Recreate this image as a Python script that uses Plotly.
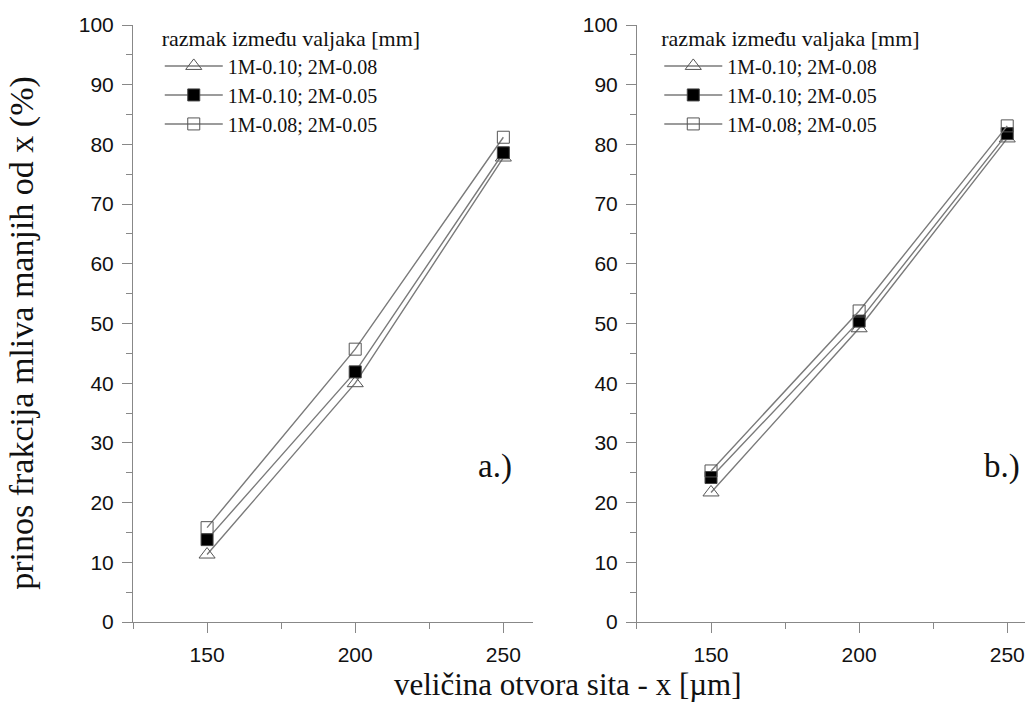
import plotly.graph_objects as go

sieve = [150, 200, 250]
series_names = ["1M-0.10; 2M-0.08", "1M-0.10; 2M-0.05", "1M-0.08; 2M-0.05"]

a_tri = [11.3, 40.0, 77.8]
a_fill = [13.8, 41.9, 78.6]
a_open = [15.8, 45.7, 81.2]

b_tri = [21.7, 49.2, 81.0]
b_fill = [24.2, 50.4, 81.8]
b_open = [25.3, 52.1, 83.1]

legend_title = "razmak između valjaka [mm]"
y_title = "prinos frakcija mliva manjih od x (%)"
x_title = "veličina otvora sita - x [µm]"

SERIF = "Liberation Serif, Times New Roman, serif"
SANS = "Liberation Sans, Arial, sans-serif"
LINE = "#7a7a7a"

styles = [
    dict(symbol="triangle-up-open", color="#555555", size=14),
    dict(symbol="square", color="#000000", size=12, line=dict(color="#444444", width=1)),
    dict(symbol="square-open", color="#555555", size=12),
]

fig = go.Figure()
for panel, data in (("a", [a_tri, a_fill, a_open]), ("b", [b_tri, b_fill, b_open])):
    xa = "x" if panel == "a" else "x2"
    ya = "y" if panel == "a" else "y2"
    lg = "legend" if panel == "a" else "legend2"
    for name, vals, st in zip(series_names, data, styles):
        fig.add_trace(go.Scatter(
            x=sieve, y=vals, name=name, mode="lines+markers",
            xaxis=xa, yaxis=ya, legend=lg,
            line=dict(color=LINE, width=1.4),
            marker=st,
        ))

axis_common = dict(
    showline=True, linecolor="#888888", linewidth=1,
    ticks="outside", ticklen=10, tickcolor="#888888", tickwidth=1,
    showgrid=False, zeroline=False, ticklabelstandoff=4,
    tickfont=dict(family=SANS, size=21, color="#111111"),
)
xcommon = dict(axis_common, tickvals=[150, 200, 250],
               minor=dict(ticks="outside", ticklen=6, tickcolor="#888888", dtick=25, tick0=0))
ycommon = dict(axis_common, range=[0, 100], dtick=10,
               minor=dict(ticks="outside", ticklen=6, tickcolor="#888888", dtick=5))

legend_common = dict(
    y=1.012, xanchor="left", yanchor="top",
    bgcolor="rgba(0,0,0,0)", borderwidth=0,
    title=dict(text=legend_title, font=dict(family=SERIF, size=22, color="#111111")),
    font=dict(family=SERIF, size=20, color="#111111"),
    tracegroupgap=0, itemwidth=58,
)

fig.update_layout(
    width=1025, height=705,
    margin=dict(l=133, r=0, t=25, b=83),
    plot_bgcolor="white", paper_bgcolor="white",
    xaxis=dict(xcommon, domain=[0, 0.4484], range=[125, 260], anchor="y"),
    yaxis=dict(ycommon, domain=[0, 1], anchor="x"),
    xaxis2=dict(xcommon, domain=[0.565, 1], range=[125, 256], anchor="y2"),
    yaxis2=dict(ycommon, domain=[0, 1], anchor="x2"),
    legend=dict(legend_common, x=0.03),
    legend2=dict(legend_common, x=0.59),
    annotations=[
        dict(text="a.)", xref="x", yref="y", x=253.5, y=26, xanchor="right", yanchor="middle",
             showarrow=False, font=dict(family=SERIF, size=33, color="#111111")),
        dict(text="b.)", xref="x2", yref="y2", x=255, y=26, xanchor="right", yanchor="middle",
             showarrow=False, font=dict(family=SERIF, size=33, color="#111111")),
        dict(text=y_title, xref="paper", yref="paper", x=-0.124, y=0.485, xanchor="center", yanchor="middle",
             textangle=-90, showarrow=False, font=dict(family=SERIF, size=34, color="#111111")),
        dict(text=x_title, xref="paper", yref="paper", x=0.488, y=-0.105, xanchor="center", yanchor="middle",
             showarrow=False, font=dict(family=SERIF, size=31, color="#111111")),
    ],
)

fig.write_html("out.html")
